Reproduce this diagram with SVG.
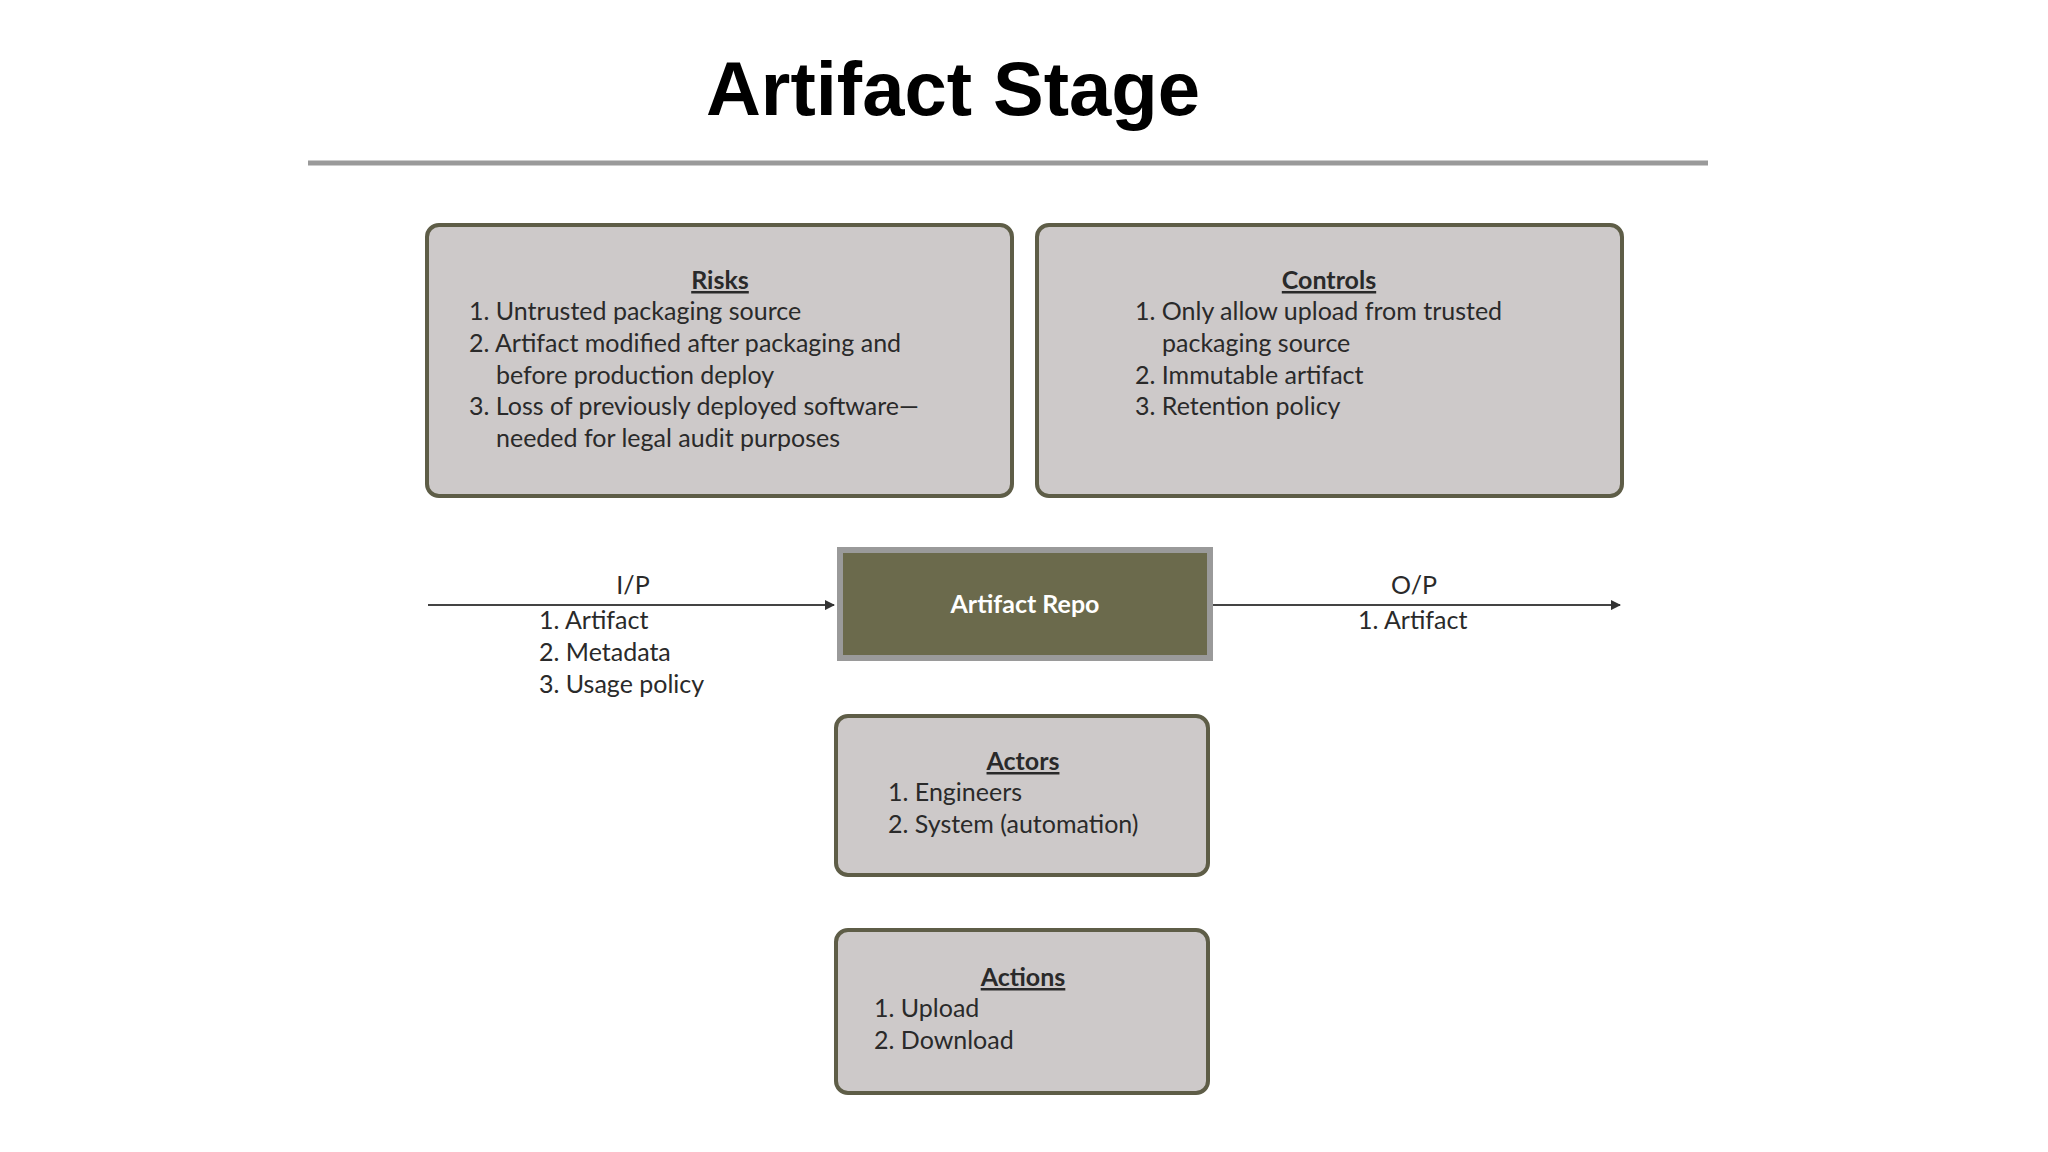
<svg xmlns="http://www.w3.org/2000/svg" width="2048" height="1152" viewBox="0 0 2048 1152">
<style>
.box{fill:#cdc9c9;stroke:#5e5d47;stroke-width:4}
.t{font-family:Lato,"Noto Sans",sans-serif;font-size:25px;fill:#2a2a2a}
.h{font-weight:bold;text-decoration:underline;text-anchor:middle}
.c{stroke:#444;stroke-width:2;fill:none}
</style>
<defs><marker id="a" markerWidth="10" markerHeight="10" refX="9" refY="5" orient="auto" markerUnits="userSpaceOnUse"><path d="M0,0 L10,5 L0,10 Z" fill="#333" transform="scale(1.8) translate(-4.4,-2.2)"/></marker></defs>
<rect width="2048" height="1152" fill="#fff"/>
<text x="953" y="115" font-family="Liberation Sans,Arial,sans-serif" font-size="76" font-weight="bold" text-anchor="middle">Artifact Stage</text>
<line x1="308" y1="163" x2="1708" y2="163" stroke="#9a9a9a" stroke-width="5"/>
<g id="risks"><rect class="box" x="427" y="225" width="585" height="271" rx="12"/>
<text class="t h" x="720" y="289">Risks</text>
<text class="t" x="469" y="320">1. Untrusted packaging source</text>
<text class="t" x="469" y="352">2. Artifact modified after packaging and</text>
<text class="t" x="496" y="384">before production deploy</text>
<text class="t" x="469" y="415">3. Loss of previously deployed software—</text>
<text class="t" x="496" y="447">needed for legal audit purposes</text></g>
<g id="controls"><rect class="box" x="1037" y="225" width="585" height="271" rx="12"/>
<text class="t h" x="1329" y="289">Controls</text>
<text class="t" x="1135" y="320">1. Only allow upload from trusted</text>
<text class="t" x="1162" y="352">packaging source</text>
<text class="t" x="1135" y="384">2. Immutable artifact</text>
<text class="t" x="1135" y="415">3. Retention policy</text></g>
<g id="repo"><rect x="840" y="550" width="370" height="108" fill="#6b6a4c" stroke="#9a9a9a" stroke-width="6"/>
<text class="t" x="1025" y="613" text-anchor="middle" font-weight="bold" fill="#fff" style="fill:#fff">Artifact Repo</text></g>
<g id="connectors">
<line class="c" x1="428" y1="605" x2="834" y2="605" marker-end="url(#a)"/>
<line class="c" x1="1213" y1="605" x2="1620" y2="605" marker-end="url(#a)"/>
</g>
<g id="ip"><text class="t" x="633" y="594" text-anchor="middle">I/P</text>
<text class="t" x="539" y="629">1. Artifact</text>
<text class="t" x="539" y="661">2. Metadata</text>
<text class="t" x="539" y="693">3. Usage policy</text></g>
<g id="op"><text class="t" x="1414" y="594" text-anchor="middle">O/P</text>
<text class="t" x="1358" y="629">1. Artifact</text></g>
<g id="actors"><rect class="box" x="836" y="716" width="372" height="159" rx="12"/>
<text class="t h" x="1023" y="770">Actors</text>
<text class="t" x="888" y="801">1. Engineers</text>
<text class="t" x="888" y="833">2. System (automation)</text></g>
<g id="actions"><rect class="box" x="836" y="930" width="372" height="163" rx="12"/>
<text class="t h" x="1023" y="986">Actions</text>
<text class="t" x="874" y="1017">1. Upload</text>
<text class="t" x="874" y="1049">2. Download</text></g>
</svg>
